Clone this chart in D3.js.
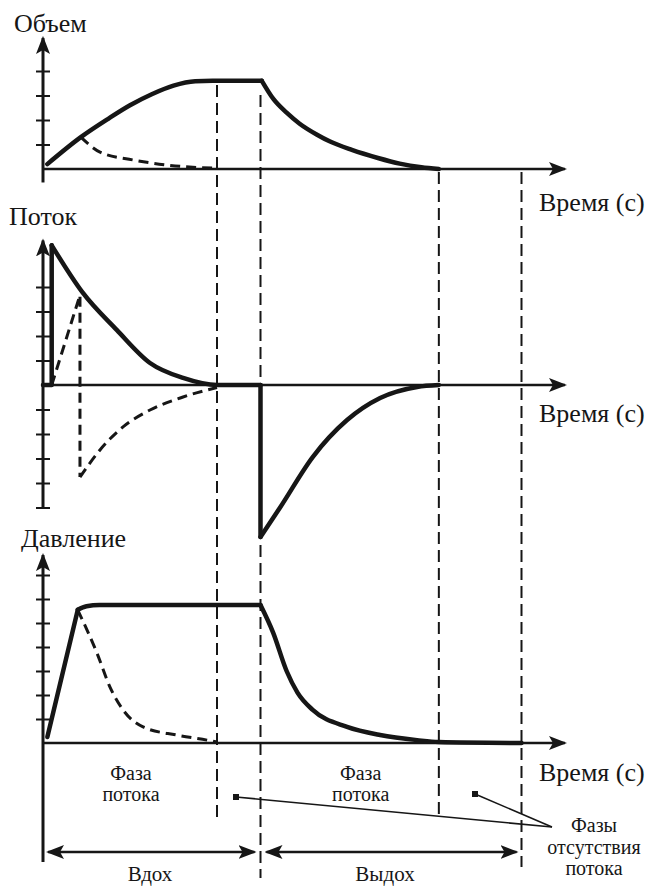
<!DOCTYPE html>
<html>
<head>
<meta charset="utf-8">
<script src="https://cdn.jsdelivr.net/npm/d3@7"></script>
</head>
<body style="margin:0">
<svg id="fig" width="652" height="886"></svg>
<script>
// time of the phase boundaries (dashed verticals)
const phaseTimes = [4, 5, 9.1, 11];

// tick values on each y axis (no tick labels in the original)
const volTicks = [1, 2, 3, 4];
const flowTicks = [-4, -3, -2, -1, 1, 2, 3, 4, -5];
const presTicks = [1, 2, 3, 4, 5, 6, 7];

// volume (solid = with pause, dashed = without)
const volRise = [[0.1, 0.2], [0.87, 1.3], [1.5, 2.05], [2.0, 2.6], [2.5, 3.05], [3.0, 3.4], [3.5, 3.58], [3.9, 3.6], [5.03, 3.6]];
const volFall = [[5.03, 3.6], [5.3, 2.85], [5.6, 2.3], [5.9, 1.85], [6.3, 1.4], [6.6, 1.12], [7.1, 0.78], [7.7, 0.45], [8.2, 0.22], [8.7, 0.07], [9.1, 0]];
const volDash = [[0.87, 1.3], [1.31, 0.69], [2.07, 0.37], [2.85, 0.16], [4.0, 0.03]];

// flow
const flowStep = [[0, 0], [0.2, 0], [0.2, 5.7]];
const flowIn = [[0.2, 5.7], [0.9, 3.8], [1.7, 2.24], [2.46, 0.9], [3.22, 0.29], [4.0, 0], [5.0, 0]];
const flowDrop = [[5.0, 0], [5.0, -6.2]];
const flowOut = [[5.0, -6.2], [5.45, -5.0], [6.2, -2.94], [6.99, -1.43], [7.75, -0.53], [8.6, -0.08], [9.1, 0]];
const flowDashStep = [[0.2, 0], [0.85, 3.67], [0.85, -3.76]];
const flowDashOut = [[0.85, -3.76], [1.31, -2.65], [1.84, -1.71], [2.46, -1.02], [3.22, -0.49], [4.0, -0.1]];

// pressure
const presRamp = [[0.1, 0.25], [0.8, 5.55]];
const presHold = [[0.8, 5.55], [1.0, 5.7], [1.3, 5.75], [5.0, 5.75]];
const presFall = [[5.0, 5.75], [5.29, 4.6], [5.6, 3.0], [5.85, 2.1], [6.2, 1.38], [6.99, 0.67], [7.75, 0.33], [8.6, 0.12], [9.1, 0.04], [11, 0]];
const presDash = [[0.8, 5.54], [1.24, 3.75], [1.54, 2.33], [1.84, 1.38], [2.3, 0.67], [3.08, 0.33], [3.77, 0.12], [4.0, 0.04]];

const svg = d3.select('#fig');
const ink = '#161616';
const faces = ['Liberation Serif', 'Tinos', 'Times New Roman'];

const x = d3.scaleLinear().domain([0, 12]).range([43, 565]);

// each panel: own y scale, axis extent given in data units
const panels = [
  { name: 'Объем', y: d3.scaleLinear().domain([0, 1]).range([169, 144.5]), lo: -0.55, hi: 5.35, ticks: volTicks,
    label: [14, 32], tlabel: 211 },
  { name: 'Поток', y: d3.scaleLinear().domain([0, 1]).range([385, 360.5]), lo: -5, hi: 5.9, ticks: flowTicks,
    label: [9, 225], tlabel: 422 },
  { name: 'Давление', y: d3.scaleLinear().domain([0, 1]).range([743, 719]), lo: -4.96, hi: 7.83, ticks: presTicks,
    label: [21, 547], tlabel: 781 }
];

const defs = svg.append('defs');
defs.append('marker')
  .attr('id', 'head')
  .attr('markerUnits', 'userSpaceOnUse')
  .attr('viewBox', '0 -7 18 14')
  .attr('refX', 16).attr('refY', 0)
  .attr('markerWidth', 18).attr('markerHeight', 14)
  .attr('orient', 'auto-start-reverse')
  .append('path').attr('d', 'M0,-7L18,0L0,7L4,0Z').attr('fill', ink);

const smooth = y => d3.line().x(d => x(d[0])).y(d => y(d[1])).curve(d3.curveMonotoneX);
const straight = y => d3.line().x(d => x(d[0])).y(d => y(d[1]));

const labels = [];

panels.forEach(p => {
  const g = svg.append('g');
  // y axis with ticks crossing the line
  const ax = g.append('g')
    .attr('transform', `translate(${x(0)},0)`)
    .call(d3.axisLeft(p.y).tickValues(p.ticks).tickSize(7).tickSizeOuter(0).tickFormat(''));
  ax.select('.domain').remove();
  ax.selectAll('.tick text').remove();
  ax.selectAll('.tick line').attr('x1', 7).attr('stroke', ink).attr('stroke-width', 2);

  g.append('line')
    .attr('x1', x(0)).attr('x2', x(0))
    .attr('y1', p.y(p.lo)).attr('y2', p.y(p.hi))
    .attr('stroke', ink).attr('stroke-width', 3)
    .attr('marker-end', 'url(#head)');

  // time axis
  g.append('line')
    .attr('x1', x(0)).attr('x2', x(12))
    .attr('y1', p.y(0)).attr('y2', p.y(0))
    .attr('stroke', ink).attr('stroke-width', 2.5)
    .attr('marker-end', 'url(#head)');

  labels.push({ s: p.name, x: p.label[0], y: p.label[1], size: 26, anchor: 'start' });
  labels.push({ s: 'Время (с)', x: 539, y: p.tlabel, size: 26, anchor: 'start' });
});

// phase boundaries
const vTop = [85, 95, 172, 172];
const vBot = [823, 878, 820, 867];
svg.append('g').selectAll('line').data(phaseTimes).join('line')
  .attr('x1', d => x(d)).attr('x2', d => x(d))
  .attr('y1', (d, i) => vTop[i]).attr('y2', (d, i) => vBot[i])
  .attr('stroke', ink).attr('stroke-width', 2)
  .attr('stroke-dasharray', '12,6');

const curves = [
  [0, volRise, smooth, false], [0, volFall, smooth, false], [0, volDash, smooth, true],
  [1, flowStep, straight, false], [1, flowIn, smooth, false], [1, flowDrop, straight, false],
  [1, flowOut, smooth, false], [1, flowDashStep, straight, true], [1, flowDashOut, smooth, true],
  [2, presRamp, straight, false], [2, presHold, smooth, false], [2, presFall, smooth, false],
  [2, presDash, smooth, true]
];
curves.forEach(([pi, data, mk, dashed]) => {
  svg.append('path')
    .datum(data)
    .attr('d', mk(panels[pi].y))
    .attr('fill', 'none')
    .attr('stroke', ink)
    .attr('stroke-width', dashed ? 3 : 4.5)
    .attr('stroke-linejoin', 'round')
    .attr('stroke-linecap', dashed ? 'butt' : 'round')
    .attr('stroke-dasharray', dashed ? '10,6' : null);
});

// inhale / exhale spans
const spanY = 852;
svg.append('line').attr('x1', x(0) + 5).attr('x2', x(phaseTimes[1]) - 6)
  .attr('y1', spanY).attr('y2', spanY)
  .attr('stroke', ink).attr('stroke-width', 2.5)
  .attr('marker-start', 'url(#head)').attr('marker-end', 'url(#head)');
svg.append('line').attr('x1', x(phaseTimes[1]) + 6).attr('x2', x(phaseTimes[3]) - 5)
  .attr('y1', spanY).attr('y2', spanY)
  .attr('stroke', ink).attr('stroke-width', 2.5)
  .attr('marker-start', 'url(#head)').attr('marker-end', 'url(#head)');

const c1 = (x(0) + x(phaseTimes[0])) / 2 + 1;
const c2 = (x(phaseTimes[1]) + x(phaseTimes[2])) / 2 + 11;
labels.push(
  { s: 'Фаза', x: c1, y: 780, size: 20, anchor: 'middle' },
  { s: 'потока', x: c1, y: 801, size: 20, anchor: 'middle' },
  { s: 'Фаза', x: c2, y: 780, size: 20, anchor: 'middle' },
  { s: 'потока', x: c2, y: 801, size: 20, anchor: 'middle' },
  { s: 'Вдох', x: 150, y: 881, size: 21, anchor: 'middle' },
  { s: 'Выдох', x: 385, y: 881, size: 21, anchor: 'middle' },
  { s: 'Фазы', x: 594, y: 832, size: 20, anchor: 'middle' },
  { s: 'отсутствия', x: 594, y: 854, size: 20, anchor: 'middle' },
  { s: 'потока', x: 594, y: 875, size: 20, anchor: 'middle' }
);

svg.append('g').selectAll('text').data(labels).join('text')
  .attr('x', d => d.x).attr('y', d => d.y)
  .attr('text-anchor', d => d.anchor)
  .attr('font-size', d => d.size)
  .style('font-family', d => faces.map(f => `"${f}"`).join(', '))
  .style('fill', ink)
  .text(d => d.s);

// pointers to the no-flow phases
const tip = [552, 827];
[[236, 797], [475, 794]].forEach(p => {
  svg.append('line').attr('x1', p[0]).attr('y1', p[1]).attr('x2', tip[0]).attr('y2', tip[1])
    .attr('stroke', ink).attr('stroke-width', 1.6);
  svg.append('rect').attr('x', p[0] - 3).attr('y', p[1] - 3).attr('width', 6).attr('height', 6)
    .attr('fill', ink);
});
</script>
</body>
</html>
